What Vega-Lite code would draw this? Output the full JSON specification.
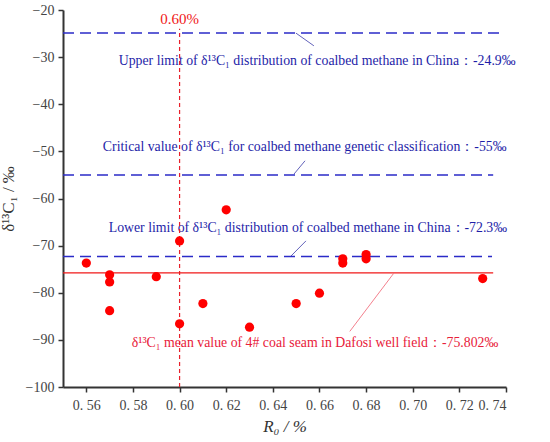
{
  "$schema": "https://vega.github.io/schema/vega-lite/v6.json",
  "width": 443,
  "height": 377,
  "autosize": {"type": "none"},
  "padding": {"left": 63, "top": 10, "right": 44, "bottom": 55},
  "background": "white",
  "config": {
    "view": {"stroke": null},
    "font": "Liberation Serif",
    "axis": {"grid": false, "domainColor": "#333", "domainWidth": 2, "tickColor": "#333", "tickWidth": 1.5, "tickSize": 5, "labelFont": "Liberation Serif", "labelFontSize": 14, "labelColor": "#444", "titleFont": "Liberation Serif", "titleFontSize": 17, "titleFontWeight": "normal", "titleColor": "#333"}
  },
  "datasets": {
    "pts": [
      {"r": 0.56, "d": -73.7},
      {"r": 0.57, "d": -76.2},
      {"r": 0.57, "d": -77.7},
      {"r": 0.57, "d": -83.8},
      {"r": 0.59, "d": -76.6},
      {"r": 0.60, "d": -69.0},
      {"r": 0.60, "d": -86.6},
      {"r": 0.61, "d": -82.3},
      {"r": 0.62, "d": -62.4},
      {"r": 0.63, "d": -87.3},
      {"r": 0.65, "d": -82.3},
      {"r": 0.66, "d": -80.1},
      {"r": 0.67, "d": -72.8},
      {"r": 0.67, "d": -73.7},
      {"r": 0.68, "d": -71.9},
      {"r": 0.68, "d": -72.8},
      {"r": 0.73, "d": -77.0}
    ],
    "blue": [
      {"x": 0.55, "x2": 0.7395, "y": -24.9},
      {"x": 0.55, "x2": 0.7345, "y": -55},
      {"x": 0.55, "x2": 0.7340, "y": -72.3}
    ],
    "blueLead": [
      {"x": 0.6499, "y": -24.9, "x2": 0.6576, "y2": -27.6},
      {"x": 0.6491, "y": -54.8, "x2": 0.6538, "y2": -52.0},
      {"x": 0.6478, "y": -72.2, "x2": 0.6542, "y2": -69.0}
    ],
    "blueText": [
      {"x": 0.5739, "y": -30.8, "t": "Upper limit of δ¹³C₁ distribution of coalbed methane in China：-24.9‰"},
      {"x": 0.5671, "y": -49.1, "t": "Critical value of δ¹³C₁ for coalbed methane  genetic classification：-55‰"},
      {"x": 0.5696, "y": -66.3, "t": "Lower limit of δ¹³C₁ distribution of coalbed methane in China：-72.3‰"}
    ],
    "redLine": [{"x": 0.55, "x2": 0.7345, "y": -75.802}],
    "redLead": [{"x": 0.6918, "y": -75.9, "x2": 0.673, "y2": -88.2}],
    "redText": [{"x": 0.5795, "y": -90.6, "t": "δ¹³C₁ mean value of  4# coal seam in Dafosi well field：-75.802‰"}],
    "vline": [{"x": 0.60, "y": -100, "y2": -24}],
    "vlab": [{"x": 0.60, "y": -22, "t": "0.60%"}]
  },
  "layer": [
    {
      "data": {"name": "blue"},
      "mark": {"type": "rule", "color": "#2b2bc8", "strokeWidth": 1.5, "strokeDash": [11, 6]},
      "encoding": {
        "x": {"field": "x", "type": "quantitative", "scale": {"domain": [0.55, 0.74], "nice": false, "zero": false},
          "axis": {"values": [0.56, 0.58, 0.6, 0.62, 0.64, 0.66, 0.68, 0.7, 0.72, 0.74], "format": ".2f", "labelExpr": "replace(datum.label, '.', '. ')", "title": "R₀ / %", "titleFontStyle": "italic", "titlePadding": 6, "labelPadding": 6}},
        "x2": {"field": "x2"},
        "y": {"field": "y", "type": "quantitative", "scale": {"domain": [-100, -20], "nice": false, "zero": false},
          "axis": {"values": [-100, -90, -80, -70, -60, -50, -40, -30, -20], "title": "δ¹³C₁ / ‰", "titlePadding": 8, "labelPadding": 4}}
      }
    },
    {
      "data": {"name": "blueLead"},
      "mark": {"type": "rule", "color": "#3a3aa8", "strokeWidth": 0.8},
      "encoding": {
        "x": {"field": "x", "type": "quantitative"},
        "x2": {"field": "x2"},
        "y": {"field": "y", "type": "quantitative"},
        "y2": {"field": "y2"}
      }
    },
    {
      "data": {"name": "blueText"},
      "mark": {"type": "text", "color": "#1e1ea8", "fontSize": 13.8, "align": "left", "baseline": "middle", "font": "Liberation Serif"},
      "encoding": {
        "x": {"field": "x", "type": "quantitative"},
        "y": {"field": "y", "type": "quantitative"},
        "text": {"field": "t"}
      }
    },
    {
      "data": {"name": "vline"},
      "mark": {"type": "rule", "color": "#e8202a", "strokeWidth": 1.2, "strokeDash": [4, 3]},
      "encoding": {
        "x": {"field": "x", "type": "quantitative"},
        "y": {"field": "y", "type": "quantitative"},
        "y2": {"field": "y2"}
      }
    },
    {
      "data": {"name": "vlab"},
      "mark": {"type": "text", "color": "#f01818", "fontSize": 15, "align": "center", "baseline": "middle", "font": "Liberation Serif"},
      "encoding": {
        "x": {"field": "x", "type": "quantitative"},
        "y": {"field": "y", "type": "quantitative"},
        "text": {"field": "t"}
      }
    },
    {
      "data": {"name": "redLine"},
      "mark": {"type": "rule", "color": "#f01818", "strokeWidth": 1.3},
      "encoding": {
        "x": {"field": "x", "type": "quantitative"},
        "x2": {"field": "x2"},
        "y": {"field": "y", "type": "quantitative"}
      }
    },
    {
      "data": {"name": "redLead"},
      "mark": {"type": "rule", "color": "#f06070", "strokeWidth": 0.8},
      "encoding": {
        "x": {"field": "x", "type": "quantitative"},
        "x2": {"field": "x2"},
        "y": {"field": "y", "type": "quantitative"},
        "y2": {"field": "y2"}
      }
    },
    {
      "data": {"name": "redText"},
      "mark": {"type": "text", "color": "#e8203a", "fontSize": 13.8, "align": "left", "baseline": "middle", "font": "Liberation Serif"},
      "encoding": {
        "x": {"field": "x", "type": "quantitative"},
        "y": {"field": "y", "type": "quantitative"},
        "text": {"field": "t"}
      }
    },
    {
      "data": {"name": "pts"},
      "mark": {"type": "circle", "color": "#ff0000", "opacity": 1, "size": 85},
      "encoding": {
        "x": {"field": "r", "type": "quantitative"},
        "y": {"field": "d", "type": "quantitative"}
      }
    }
  ]
}
